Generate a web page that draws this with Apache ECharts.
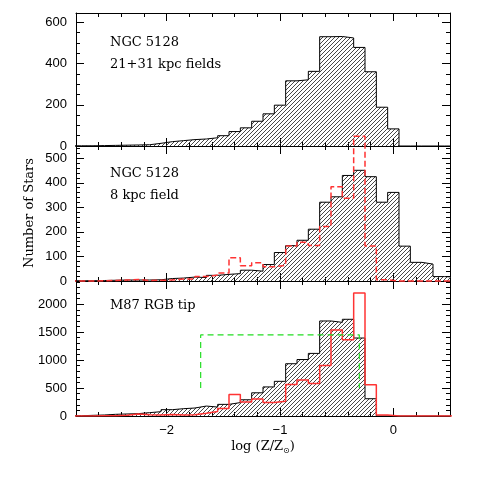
<!DOCTYPE html>
<html>
<head>
<meta charset="utf-8">
<script src="https://cdn.jsdelivr.net/npm/echarts@6/dist/echarts.min.js"></script>
<style>
  html, body { margin: 0; padding: 0; background: #fff; }
  #chart { width: 491px; height: 491px; }
</style>
</head>
<body>
<div id="chart"></div>
<script>
// bin centres, log (Z/Zsun), bin width 0.1
const logZ = [-2.8, -2.7, -2.6, -2.5, -2.4, -2.3, -2.2, -2.1, -2.0, -1.9, -1.8, -1.7,
  -1.6, -1.5, -1.4, -1.3, -1.2, -1.1, -1.0, -0.9, -0.8, -0.7, -0.6, -0.5, -0.4,
  -0.3, -0.2, -0.1, 0.0, 0.1, 0.2, 0.3, 0.4, 0.5]

// NGC 5128, 21+31 kpc fields
const outerFields = [1, 1, 2, 3, 4, 5, 6, 13, 21, 26, 31, 34,
  40, 50, 70, 88, 120, 156, 198, 316, 321, 362, 530, 531, 524,
  478, 360, 188, 83, 0, 0, 0, 0, 0]

// NGC 5128, 8 kpc field
const innerField = [1, 1, 2, 3, 4, 4, 4, 5, 10, 12, 16, 14,
  23, 27, 30, 44, 40, 67, 116, 144, 166, 211, 321, 343, 430,
  451, 425, 321, 361, 142, 76, 69, 18, 16]
const innerModel = [0, 0, 1, 2, 4, 6, 2, 3, 4, 8, 8, 18,
  24, 33, 95, 62, 74, 58, 64, 143, 158, 145, 222, 384, 337,
  590, 143, 5, 0, 0, 0, 0, 0, 0]

// M87 RGB tip
const m87 = [5, 12, 18, 30, 36, 42, 60, 77, 113, 131, 143, 178,
  160, 208, 240, 290, 415, 520, 620, 935, 1010, 1120, 1700, 1675, 1730,
  1395, 309, 0, 0, 0, 0, 0, 0, 0]
const m87Model = [0, 0, 5, 5, 12, 36, 24, 20, 25, 18, 24, 50,
  80, 135, 385, 250, 305, 240, 262, 565, 645, 580, 905, 1540, 1362,
  2200, 560, 18, 0, 0, 0, 0, 0, 0]
const m87BoxX = [-1.7, -1.7, -0.3, -0.3]
const m87BoxY = [500, 1450, 1450, 500]

const xTicksMajor = [-2, -1, 0]
const xTicksMinor = [-2.6, -2.4, -2.2, -2.0, -1.8, -1.6, -1.4, -1.2, -1.0, -0.8, -0.6, -0.4, -0.2, 0.0, 0.2, 0.4]

const panels = [
  { top: 13, height: 133, max: 645, interval: 200, minor: 4 },
  { top: 146, height: 135, max: 550, interval: 100, minor: 5 },
  { top: 281, height: 135, max: 2415, interval: 500, minor: 5 }
]

function hatch() {
  const s = 4
  const c = document.createElement('canvas')
  c.width = s
  c.height = s
  const g = c.getContext('2d')
  g.strokeStyle = '#333'
  g.lineWidth = 0.9
  g.beginPath()
  for (let k = -1; k <= 1; k++) {
    g.moveTo(k * s, s)
    g.lineTo(k * s + s, 0)
  }
  g.stroke()
  return c
}
const hatchImg = hatch()

function steps(vals) {
  const pts = []
  vals.forEach((v, i) => {
    pts.push([logZ[i] - 0.05, v], [logZ[i] + 0.05, v])
  })
  return pts
}

const axisFont = 'Liberation Sans'
const textFont = '13px "DejaVu Serif"'
const line = { show: true, onZero: false, lineStyle: { color: '#000', width: 1 } }

const grid = []
const xAxis = []
const yAxis = []
panels.forEach((p, i) => {
  grid.push({ left: 76, right: 41, top: p.top, height: p.height })
  const last = i === panels.length - 1
  ;['bottom', 'top'].forEach(pos => {
    xAxis.push({
      gridIndex: i, type: 'value', min: -2.8, max: 0.5, position: pos,
      axisLine: line,
      axisTick: { show: true, inside: true, length: 4, customValues: xTicksMinor, lineStyle: { color: '#000' } },
      axisLabel: { show: false },
      splitLine: { show: false }
    })
    xAxis.push({
      gridIndex: i, type: 'value', min: -2.8, max: 0.5, position: pos,
      axisLine: { show: false, onZero: false },
      axisTick: { show: true, inside: true, length: 8, customValues: xTicksMajor, lineStyle: { color: '#000' } },
      axisLabel: {
        show: last && pos === 'bottom', customValues: xTicksMajor, color: '#000',
        fontFamily: axisFont, fontSize: 13, margin: 8,
        formatter: v => (v < 0 ? '\u2212' + Math.abs(v) : '' + v)
      },
      splitLine: { show: false }
    })
  })
  ;['left', 'right'].forEach(pos => {
    yAxis.push({
      gridIndex: i, type: 'value', min: 0, max: p.max, interval: p.interval, position: pos,
      axisLine: line,
      axisTick: { show: true, inside: true, length: 8, lineStyle: { color: '#000' } },
      minorTick: { show: true, splitNumber: p.minor, length: 4, lineStyle: { color: '#000' } },
      axisLabel: {
        show: pos === 'left', showMaxLabel: false, color: '#000',
        fontFamily: axisFont, fontSize: 13, margin: 9,
        formatter: v => '' + v
      },
      splitLine: { show: false }
    })
  })
})

function histo(i, vals) {
  return {
    type: 'line', xAxisIndex: i * 4, yAxisIndex: i * 2, data: steps(vals),
    symbol: 'none', animation: false, silent: true,
    lineStyle: { color: '#000', width: 1 },
    areaStyle: { color: { image: hatchImg, repeat: 'repeat' }, opacity: 1 }
  }
}

const chart = echarts.init(document.getElementById('chart'))
chart.setOption({
  backgroundColor: '#fff',
  animation: false,
  grid: grid,
  xAxis: xAxis,
  yAxis: yAxis,
  series: [
    histo(0, outerFields),
    histo(1, innerField),
    {
      type: 'line', xAxisIndex: 4, yAxisIndex: 2, data: steps(innerModel),
      symbol: 'none', clip: false,
      lineStyle: { color: '#ff3333', width: 1.5, type: [6, 3] }
    },
    histo(2, m87),
    {
      type: 'line', xAxisIndex: 8, yAxisIndex: 4, data: steps(m87Model),
      symbol: 'none',
      lineStyle: { color: '#ff3333', width: 1.5 }
    },
    {
      type: 'line', xAxisIndex: 8, yAxisIndex: 4,
      data: m87BoxX.map((x, k) => [x, m87BoxY[k]]),
      symbol: 'none',
      lineStyle: { color: '#22dd22', width: 1.2, type: [6, 4] }
    }
  ],
  graphic: [
    { type: 'text', x: 110, y: 43, style: { text: 'NGC 5128', font: textFont, fill: '#000', verticalAlign: 'middle' } },
    { type: 'text', x: 110, y: 65, style: { text: '21+31 kpc fields', font: textFont, fill: '#000', verticalAlign: 'middle' } },
    { type: 'text', x: 110, y: 174, style: { text: 'NGC 5128', font: textFont, fill: '#000', verticalAlign: 'middle' } },
    { type: 'text', x: 110, y: 196, style: { text: '8 kpc field', font: textFont, fill: '#000', verticalAlign: 'middle' } },
    { type: 'text', x: 110, y: 306, style: { text: 'M87 RGB tip', font: textFont, fill: '#000', verticalAlign: 'middle' } },
    { type: 'text', x: 30, y: 213, rotation: Math.PI / 2, style: { text: 'Number of Stars', font: textFont, fill: '#000', align: 'center', verticalAlign: 'middle' } },
    {
      type: 'text', x: 263, y: 447,
      style: {
        text: '{a|log (Z/Z}{s|\u2299}{a|)}', align: 'center', verticalAlign: 'middle',
        rich: {
          a: { font: textFont, fill: '#000', lineHeight: 18 },
          s: { fontFamily: 'DejaVu Sans', fontSize: 8, fill: '#000', lineHeight: 18, padding: [7, 0, 0, 0] }
        }
      }
    }
  ]
})
</script>
</body>
</html>
